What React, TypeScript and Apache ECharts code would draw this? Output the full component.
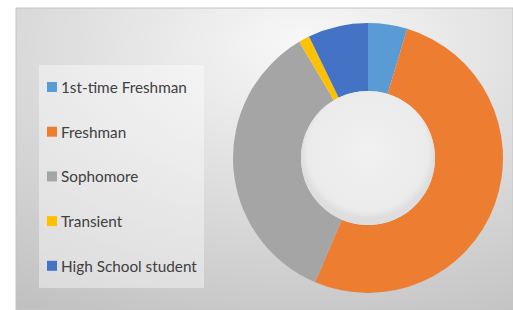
import React, { useEffect, useRef } from "react";
import * as echarts from "echarts";

const categories = ["1st-time Freshman", "Freshman", "Sophomore", "Transient", "High School student"];
const values = [4.7, 51.7, 35.1, 1.3, 7.2];
const colors = ["#5B9BD5", "#ED7D31", "#A5A5A5", "#FFC000", "#4472C4"];

export default function App() {
  const ref = useRef<HTMLDivElement>(null);
  useEffect(() => {
    const chart = echarts.init(ref.current!, null, { renderer: "svg" });
    chart.setOption({
      animation: false,
      backgroundColor: "#ffffff",
      graphic: [
        {
          type: "rect",
          z: -10,
          silent: true,
          shape: { x: 16, y: 8, width: 497, height: 302 },
          style: {
            fill: {
              type: "radial",
              x: 0.58,
              y: 0.12,
              r: 1.05,
              colorStops: [
                { offset: 0, color: "#f8f8f8" },
                { offset: 1, color: "#c0c0c0" },
              ],
            },
            stroke: "#c4c4c4",
            lineWidth: 1,
          },
        },
        {
          type: "rect",
          z: -5,
          silent: true,
          shape: { x: 39, y: 65, width: 165, height: 223 },
          style: { fill: "rgba(255,255,255,0.4)" },
        },
        {
          type: "circle",
          z: 5,
          silent: true,
          shape: { cx: 368, cy: 158, r: 67 },
          style: {
            fill: {
              type: "radial",
              x: 0.5,
              y: 0.45,
              r: 0.5,
              colorStops: [
                { offset: 0, color: "#f1f1f1" },
                { offset: 0.9, color: "#ebebeb" },
                { offset: 1, color: "#dedede" },
              ],
            },
          },
        },
      ],
      legend: {
        orient: "vertical",
        left: 39,
        top: 65,
        padding: [14, 8, 14, 8],
        icon: "rect",
        itemWidth: 10,
        itemHeight: 10,
        itemGap: 28.7,
        itemStyle: { borderWidth: 0 },
        textStyle: {
          fontFamily: "Lato",
          fontSize: 15.3,
          lineHeight: 16,
          color: "#404040",
          padding: [0, 0, 0, -1],
        },
        data: categories,
      },
      series: [
        {
          type: "pie",
          center: [368, 158],
          radius: [67, 135],
          startAngle: 90,
          clockwise: true,
          label: { show: false },
          labelLine: { show: false },
          emphasis: { disabled: true },
          itemStyle: { borderWidth: 0 },
          data: categories.map((name, i) => ({
            name,
            value: values[i],
            itemStyle: { color: colors[i] },
          })),
        },
      ],
    });
    return () => chart.dispose();
  }, []);
  return (
    <div style={{ position: "absolute", left: 0, top: 0, width: 513, height: 310 }}>
      <div ref={ref} style={{ width: 513, height: 310 }} />
    </div>
  );
}
